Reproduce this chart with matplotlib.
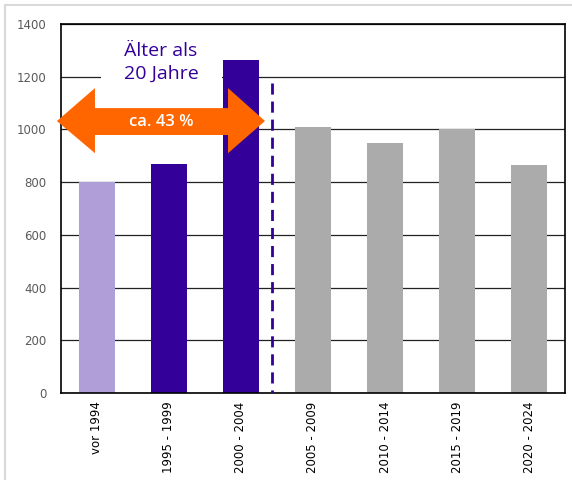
import numpy as np
import matplotlib
matplotlib.use("Agg")
import matplotlib.pyplot as plt
from matplotlib.patches import Polygon, Rectangle

# Baujahre und Anzahl
kategorien = ["vor 1994", "1995 - 1999", "2000 - 2004", "2005 - 2009",
              "2010 - 2014", "2015 - 2019", "2020 - 2024"]
anzahl = [800, 870, 1265, 1010, 950, 1000, 865]
farben = ["#B09ED8", "#330099", "#330099", "#ABABAB", "#ABABAB", "#ABABAB", "#ABABAB"]
yticks = [0, 200, 400, 600, 800, 1000, 1200, 1400]

fig = plt.figure(figsize=(5.72, 4.8), dpi=100)
ax = fig.add_axes([0.1066, 0.181, 0.8812, 0.769])

# hellgrauer Rahmen um die Grafik
fig.patches.append(Rectangle((5 / 572, -0.1), 1.2, 1 - 5 / 480 + 0.1, transform=fig.transFigure,
                             fill=False, edgecolor="#D9D9D9", linewidth=1.5))

x = np.arange(len(kategorien))
ax.bar(x, anzahl, width=0.5, color=farben, zorder=2)

ax.set_xlim(-0.5, len(kategorien) - 0.5)
ax.set_ylim(0, 1400)
ax.set_yticks(yticks)
ax.set_xticks(x)
ax.set_xticklabels(kategorien, rotation=90, fontsize=8.5, color="black")
ax.tick_params(axis="y", length=0, labelsize=8.5, labelcolor="#595959", pad=10.5)
ax.tick_params(axis="x", length=0, pad=6)
ax.yaxis.grid(True, color="#222222", linewidth=0.9, zorder=0)
ax.set_axisbelow(True)
for s in ax.spines.values():
    s.set_color("black")
    s.set_linewidth(1.2)

# Trennlinie nach 2004 (von oben nach unten gestrichelt)
ax.plot([2.43, 2.43], [1175, 0], color="#330099", linestyle=(0, (4, 2.5)), linewidth=2, zorder=3)

# weisser Hintergrund hinter der Beschriftung
ax.add_patch(Rectangle((0.056, 1150), 1.68, 200, facecolor="white", edgecolor="none", zorder=1))
ax.text(0.889, 1253, "Älter als\n20 Jahre", ha="center", va="center", color="#330099",
        fontsize=14, family="Open Sans", linespacing=1.35, zorder=5)

# Doppelpfeil "ca. 43 %"
pfeil = [(-0.556, 1032), (-0.028, 1157), (-0.028, 1081), (1.82, 1081), (1.82, 1157),
         (2.333, 1032), (1.82, 910), (1.82, 979), (-0.028, 979), (-0.028, 910)]
ax.add_patch(Polygon(pfeil, closed=True, facecolor="#FF6600", edgecolor="none",
                     zorder=4, clip_on=False))
ax.text(0.889, 1027, "ca. 43 %", ha="center", va="center", color="white",
        fontsize=12, fontweight="semibold", family="Open Sans", zorder=5)

fig.savefig("out.png", dpi=100)
